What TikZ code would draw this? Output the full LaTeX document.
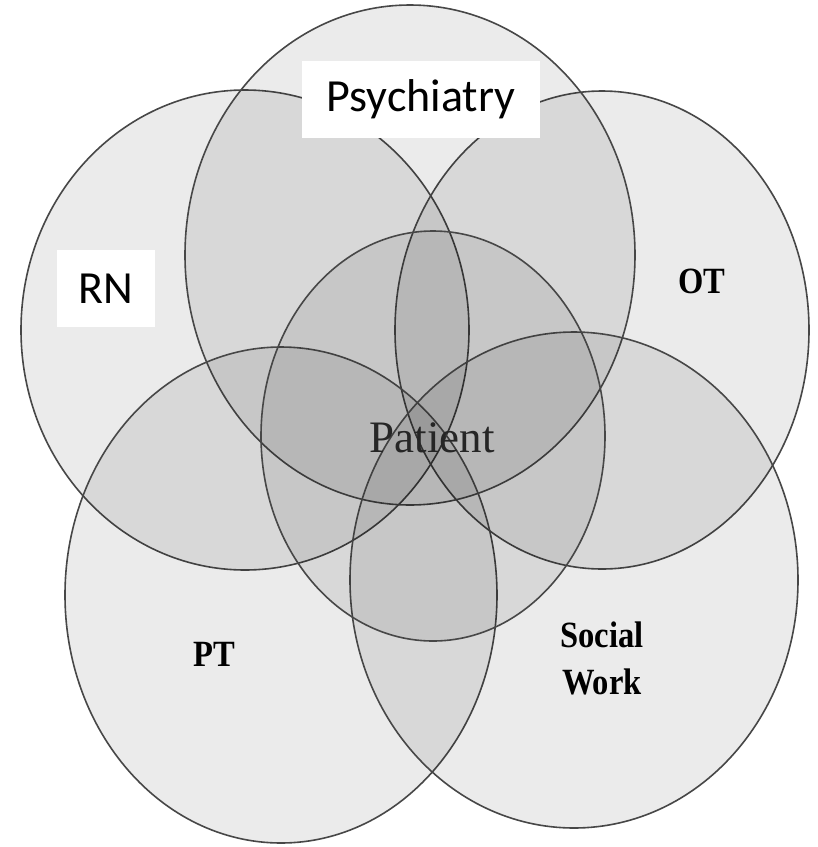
\documentclass[tikz,border=0pt]{standalone}
\usepackage{fontspec}
\setmainfont{Liberation Serif}
\newfontfamily\boxfont{Carlito}
\newfontfamily\setfont[FakeStretch=0.88]{Liberation Serif}
\usetikzlibrary{positioning}

\begin{document}
\begin{tikzpicture}[x=1pt, y=-1pt,
		set/.style={draw=black!72, line width=1.6pt, fill=black, fill opacity=0.08},
		boxlabel/.style={fill=white, font=\boxfont\fontsize{46}{50}\selectfont, inner sep=0pt, minimum height=77pt},
		setlabel/.style={font=\setfont\bfseries\fontsize{37}{47}\selectfont, align=center}
	]
		\fill[white] (0,0) rectangle (818,847);
		\useasboundingbox (0,0) rectangle (818,847);

		\foreach \cx/\cy/\rx/\ry in {245/330/224/240, 602/330/207/239, 410/255/225/250, 281/595/216/248, 574/580/224/248, 433/436/172/205}
			\draw[set] (\cx,\cy) ellipse [x radius=\rx pt, y radius=\ry pt];

		\node[boxlabel, minimum width=238pt] (psychiatry) at (421,99.5) {Psychiatry};
		\node[boxlabel, minimum width=98pt] (rn) at (106,288.5) {RN};
		\node[setlabel] (ot) at (702,281.5) {OT};
		\node[setlabel] (pt) at (214,654.5) {PT};
		\node[setlabel] (social) at (602,658.5) {Social\\Work};
		\node[font=\fontsize{45}{50}\selectfont, text=black!85] (patient) at (432,438) {Patient};
	\end{tikzpicture}
\end{document}
